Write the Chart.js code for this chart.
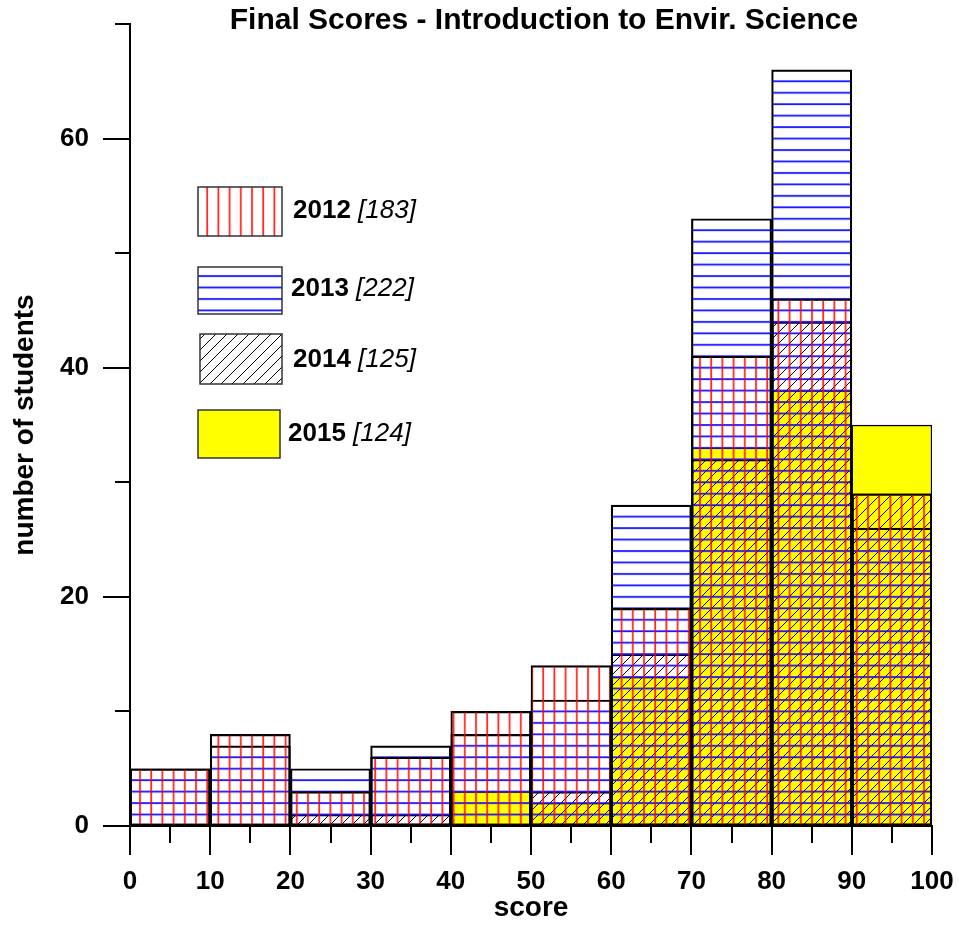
<!DOCTYPE html>
<html>
<head>
<meta charset="utf-8">
<script src="https://cdn.jsdelivr.net/npm/chart.js@4/dist/chart.umd.min.js"></script>
<style>
  html, body { margin: 0; padding: 0; background: #fff; }
  #wrap { width: 959px; height: 925px; }
</style>
</head>
<body>
<div id="wrap"><canvas id="scores" width="959" height="925"></canvas></div>
<script>
// bins are 10 points wide, bars sit on the bin centre
const binCenters = [5, 15, 25, 35, 45, 55, 65, 75, 85, 95];
const scores2012 = [5, 8, 3, 6, 10, 14, 19, 41, 46, 29];
const scores2013 = [5, 7, 5, 7, 8, 11, 28, 53, 66, 26];
const scores2014 = [0, 0, 1, 1, 0, 3, 15, 32, 44, 29];
const scores2015 = [0, 0, 0, 0, 3, 2, 13, 33, 38, 35];
const yearNames = ['2012', '2013', '2014', '2015'];
const yearTotals = ['[183]', '[222]', '[125]', '[124]'];
const yLabelled = [0, 20, 40, 60];

const FONT = '"Liberation Sans", Arial, sans-serif';
const PLOT_TOP = 24, PLOT_BOTTOM = 826, Y_MAX = 70;
const canvas = document.getElementById('scores');
const ctx = canvas.getContext('2d');

function makeTile(w, h, draw) {
    const c = document.createElement('canvas');
    c.width = w;
    c.height = h;
    draw(c.getContext('2d'), w, h);
    return c;
}

// red verticals every 11.2px, blue horizontals on every whole count, black diagonal hatch
const redTile = makeTile(112, 4, (g, w, h) => {
    g.fillStyle = 'rgba(255,0,0,0.85)';
    for (let k = 0; k < 10; k++) g.fillRect(k * 11.2, 0, 1.8, h);
});
const yUnit = (PLOT_BOTTOM - PLOT_TOP) / Y_MAX;
const blueTile = makeTile(4, PLOT_BOTTOM - PLOT_TOP, (g, w, h) => {
    g.fillStyle = 'rgb(20,20,255)';
    for (let k = 0; k < Y_MAX; k++) g.fillRect(0, k * yUnit, w, 1.8);
});
const hatchTile = makeTile(11, 11, (g, w, h) => {
    g.strokeStyle = '#000';
    g.lineWidth = 1;
    g.beginPath();
    g.moveTo(-1, h + 1); g.lineTo(w + 1, -1);
    g.moveTo(-1, 1); g.lineTo(1, -1);
    g.moveTo(w - 1, h + 1); g.lineTo(w + 1, h - 1);
    g.stroke();
});
const redPat = ctx.createPattern(redTile, 'repeat');
const bluePat = ctx.createPattern(blueTile, 'repeat');
const hatchPat = ctx.createPattern(hatchTile, 'repeat');
const fills = [redPat, bluePat, hatchPat, '#ffff00'];

function toPoints(values) {
    return values.map((v, i) => ({ x: binCenters[i], y: v }));
}

const patternAlign = {
    id: 'patternAlign',
    beforeDatasetsDraw(chart) {
        const top = chart.scales.y.getPixelForValue(Y_MAX);
        bluePat.setTransform(new DOMMatrix().translate(0, top - 0.9));
        redPat.setTransform(new DOMMatrix().translate(chart.chartArea.left + 10 - 0.9, 0));
    }
};

// ticks point outwards, long on labelled values, short between
const axisTicks = {
    id: 'axisTicks',
    afterDraw(chart) {
        const c = chart.ctx;
        const xs = chart.scales.x, ys = chart.scales.y;
        const left = chart.chartArea.left, bottom = chart.chartArea.bottom;
        c.save();
        c.strokeStyle = '#000';
        c.lineWidth = 2;
        c.beginPath();
        for (let v = 0; v <= 100; v += 5) {
            const px = Math.round(xs.getPixelForValue(v));
            c.moveTo(px, bottom);
            c.lineTo(px, bottom + (v % 10 === 0 ? 29 : 17));
        }
        for (let v = 0; v <= 70; v += 10) {
            const py = Math.round(ys.getPixelForValue(v));
            c.moveTo(left, py);
            c.lineTo(left - (yLabelled.includes(v) ? 27 : 15), py);
        }
        c.stroke();

        c.fillStyle = '#000';
        c.font = 'bold 30px ' + FONT;
        c.textAlign = 'center';
        c.textBaseline = 'middle';
        c.fillText('Final Scores - Introduction to Envir. Science', 544, 21);
        c.restore();
    }
};

const boxLegend = {
    id: 'boxLegend',
    afterDatasetsDraw(chart) {
        const c = chart.ctx;
        const boxes = [[198, 187, 84, 49], [198, 267, 84, 47], [200, 334, 82, 50], [198, 410, 82, 48]];
        const textX = [293, 291, 293, 288];
        const textY = [211, 289, 360, 434];
        c.save();
        chart.data.datasets.forEach((ds, i) => {
            const b = boxes[i];
            c.fillStyle = ds.backgroundColor;
            c.fillRect(b[0], b[1], b[2], b[3]);
            c.strokeStyle = '#333';
            c.lineWidth = 1.5;
            c.strokeRect(b[0], b[1], b[2], b[3]);
            c.fillStyle = '#000';
            c.textBaseline = 'middle';
            c.textAlign = 'left';
            c.font = 'bold 26px ' + FONT;
            const head = yearNames[i] + ' ';
            c.fillText(head, textX[i], textY[i]);
            const w = c.measureText(head).width;
            c.font = 'italic 26px ' + FONT;
            c.fillText(yearTotals[i], textX[i] + w, textY[i]);
        });
        c.restore();
    }
};

const allScores = [scores2012, scores2013, scores2014, scores2015];

new Chart(ctx, {
    type: 'bar',
    data: {
        datasets: allScores.map((vals, i) => ({
            label: yearNames[i],
            data: toPoints(vals),
            backgroundColor: fills[i],
            borderColor: '#000',
            borderWidth: 1.5,
            borderSkipped: false,
            barPercentage: 1,
            categoryPercentage: 1,
            grouped: false
        }))
    },
    options: {
        responsive: false,
        animation: false,
        devicePixelRatio: 1,
        layout: { padding: { top: PLOT_TOP, right: 27, bottom: 0, left: 0 } },
        plugins: {
            legend: { display: false },
            tooltip: { enabled: false },
            title: { display: false }
        },
        scales: {
            x: {
                type: 'linear',
                min: 0,
                max: 100,
                offset: false,
                grid: {
                    display: true, drawOnChartArea: false, drawTicks: true,
                    tickLength: 40, tickColor: 'rgba(0,0,0,0)', offset: false
                },
                border: { display: true, color: '#000', width: 2 },
                ticks: {
                    stepSize: 10,
                    autoSkip: false,
                    maxRotation: 0,
                    padding: 0,
                    color: '#000',
                    font: { family: FONT, size: 26, weight: 'bold' }
                },
                title: {
                    display: true,
                    text: 'score',
                    color: '#000',
                    padding: { top: 0, bottom: 0 },
                    font: { family: FONT, size: 28, weight: 'bold' }
                },
                afterFit(scale) { scale.height = 925 - PLOT_BOTTOM; }
            },
            y: {
                min: 0,
                max: Y_MAX,
                grid: {
                    display: true, drawOnChartArea: false, drawTicks: true,
                    tickLength: 41, tickColor: 'rgba(0,0,0,0)'
                },
                border: { display: true, color: '#000', width: 2 },
                ticks: {
                    stepSize: 10,
                    autoSkip: false,
                    padding: 0,
                    color: '#000',
                    font: { family: FONT, size: 26, weight: 'bold' },
                    callback: v => (yLabelled.includes(v) ? v : '')
                },
                title: {
                    display: true,
                    text: 'number of students',
                    color: '#000',
                    padding: { top: 8, bottom: 0 },
                    font: { family: FONT, size: 28, weight: 'bold' }
                },
                afterFit(scale) { scale.width = 130; }
            }
        }
    },
    plugins: [patternAlign, boxLegend, axisTicks]
});
</script>
</body>
</html>
